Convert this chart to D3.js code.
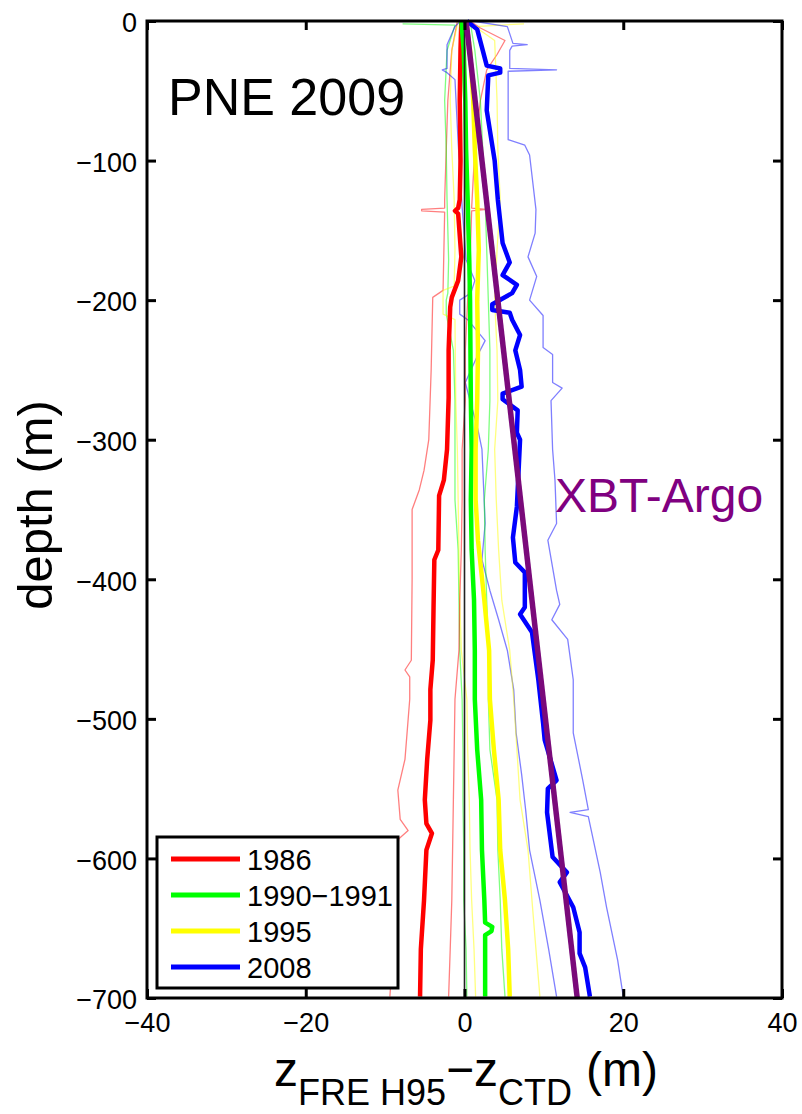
<!DOCTYPE html>
<html>
<head>
<meta charset="utf-8">
<script src="https://cdn.jsdelivr.net/npm/d3@7"></script>
<style>
  html, body { margin: 0; padding: 0; background: #fff; }
  svg { display: block; font-family: "Liberation Sans", Arial, Helvetica, sans-serif; }
</style>
</head>
<body>
<svg id="chart" width="802" height="1114"></svg>
<script>
// Depth-offset profiles: [depth (m), z_FRE H95 - z_CTD (m)]
const seriesNames = ["1986", "1990\u22121991", "1995", "2008"];
const xTicks = [-40, -20, 0, 20, 40];
const yTicks = [0, -100, -200, -300, -400, -500, -600, -700];

// 1986
const mean1986 = [[0,-0.4],[-20,-0.5],[-57,-0.6],[-100,-0.5],[-128,-0.6],[-134,-0.8],[-136,-1.2],[-138,-0.8],[-169,-0.4],[-186,-0.8],[-198,-1.6],[-205,-1.8],[-236,-2.0],[-270,-2.0],[-307,-2.2],[-329,-2.6],[-340,-3.2],[-379,-3.3],[-386,-3.8],[-420,-3.9],[-458,-4.0],[-479,-4.3],[-501,-4.3],[-529,-4.7],[-558,-5.0],[-575,-4.8],[-582,-4.1],[-594,-4.8],[-630,-5.1],[-665,-5.5],[-699,-5.6]];
const low1986 = [[0,-0.9],[-21,-1.6],[-57,-2.1],[-92,-2.3],[-128,-2.5],[-134,-2.5],[-135,-5.4],[-136,-5.4],[-137,-2.5],[-193,-2.7],[-198,-4.0],[-250,-4.2],[-300,-4.5],[-322,-5.1],[-336,-5.7],[-350,-6.6],[-400,-6.6],[-458,-6.7],[-465,-7.5],[-470,-6.9],[-486,-6.9],[-529,-7.5],[-551,-8.4],[-572,-8.1],[-580,-7.1],[-586,-8.3],[-594,-8.4],[-630,-8.6],[-665,-9.0],[-699,-9.4]];
const high1986 = [[0,0.7],[-5,2.0],[-14,5.1],[-24,4.1],[-35,2.8],[-57,2.0],[-92,1.3],[-134,0.9],[-135,2.8],[-136,0.9],[-171,0.7],[-200,0.4],[-236,0.1],[-272,0.1],[-307,-0.3],[-343,-0.3],[-379,-0.4],[-415,-0.6],[-451,-0.7],[-486,-1.2],[-522,-1.3],[-558,-1.4],[-594,-1.5],[-630,-1.6],[-665,-1.8],[-699,-2.0]];

// 1990-1991
const mean1990 = [[0,-0.4],[-21,-0.1],[-57,0.1],[-92,0.2],[-128,0.4],[-171,0.6],[-200,0.7],[-272,0.8],[-307,0.9],[-343,0.8],[-379,0.9],[-415,1.2],[-451,1.3],[-486,1.3],[-522,1.6],[-558,2.1],[-594,2.2],[-630,2.5],[-646,2.6],[-649,3.5],[-652,3.4],[-655,2.6],[-699,2.6]];
const low1990 = [[-2,-7.8],[-3,-1.2],[-21,-2.2],[-57,-2.5],[-92,-2.3],[-128,-2.2],[-171,-2.0],[-195,-2.1],[-200,-2.3],[-210,-2.3],[-236,-1.4],[-272,-1.2],[-307,-1.2],[-343,-1.2],[-379,-0.8],[-415,-0.7],[-451,-0.6],[-486,-0.3],[-522,-0.2],[-558,-0.2],[-594,-0.1],[-630,-0.1],[-665,0.2],[-699,0.3]];
const high1990 = [[0,0.7],[-21,1.3],[-57,2.0],[-92,2.3],[-128,2.6],[-164,2.8],[-200,3.0],[-236,3.2],[-272,3.2],[-307,3.0],[-343,2.5],[-379,2.6],[-415,2.8],[-451,3.0],[-486,3.0],[-522,3.2],[-558,4.1],[-594,4.2],[-630,4.5],[-665,4.7],[-699,5.1]];

// 1995
const mean1995 = [[0,0.2],[-21,0.7],[-57,1.1],[-92,1.3],[-128,1.6],[-164,1.8],[-200,1.6],[-236,1.7],[-272,1.6],[-307,1.4],[-343,1.4],[-372,1.7],[-415,2.5],[-451,3.1],[-486,3.2],[-522,3.7],[-558,4.3],[-594,4.5],[-630,5.1],[-665,5.5],[-699,5.7]];
const low1995 = [[0,-0.8],[-21,-1.6],[-57,-1.8],[-92,-1.6],[-128,-1.3],[-164,-1.2],[-190,-1.3],[-193,-2.7],[-210,-2.7],[-214,-1.2],[-272,-1.1],[-307,-0.9],[-343,-0.8],[-379,-0.7],[-415,-0.6],[-451,-0.4],[-486,0.3],[-522,0.4],[-558,0.6],[-594,0.7],[-630,0.9],[-665,1.2],[-699,1.4]];
const high1995 = [[-2,7.5],[-4,1.3],[-14,3.8],[-57,4.1],[-92,4.2],[-128,4.5],[-164,4.1],[-200,3.8],[-236,4.1],[-272,4.2],[-307,3.8],[-343,4.0],[-379,4.3],[-415,4.7],[-451,5.7],[-486,6.2],[-522,6.6],[-558,7.0],[-594,8.0],[-630,8.5],[-665,9.0],[-699,9.5]];

// 2008
const mean2008 = [[0,0.3],[-6,1.6],[-21,2.3],[-32,2.8],[-34,4.5],[-37,4.5],[-39,3.0],[-64,2.8],[-100,3.8],[-128,4.2],[-159,4.8],[-173,5.7],[-182,4.8],[-189,6.6],[-195,6.0],[-203,3.5],[-207,3.5],[-209,5.7],[-214,6.0],[-225,7.0],[-236,6.4],[-250,7.0],[-262,7.2],[-267,4.8],[-271,4.8],[-279,6.7],[-295,6.6],[-300,7.0],[-348,6.6],[-370,6.1],[-388,6.4],[-395,7.6],[-420,7.6],[-425,7.0],[-438,8.5],[-472,9.3],[-503,9.9],[-515,10.1],[-544,11.6],[-550,10.5],[-567,10.4],[-599,11.1],[-610,12.9],[-617,12.0],[-635,13.7],[-653,14.5],[-668,14.5],[-678,15.2],[-699,15.8]];
const low2008 = [[0,-0.5],[-4,-1.2],[-17,-2.2],[-34,-2.2],[-35,-2.8],[-37,-2.2],[-42,-1.2],[-87,-0.8],[-133,-0.3],[-171,0.2],[-186,1.3],[-195,0.8],[-200,-0.6],[-210,-0.6],[-214,0.4],[-229,2.6],[-239,1.7],[-259,0.1],[-272,0.7],[-293,1.7],[-307,2.2],[-360,2.6],[-386,2.2],[-408,3.2],[-429,4.3],[-451,5.4],[-479,6.2],[-510,6.5],[-540,7.2],[-565,7.7],[-594,8.2],[-630,9.5],[-665,10.6],[-699,11.6]];
const high2008 = [[0,1.0],[-4,5.4],[-16,6.1],[-17,7.9],[-18,6.0],[-21,5.7],[-34,5.7],[-35,11.6],[-36,5.5],[-85,5.5],[-89,7.6],[-96,8.2],[-135,9.0],[-152,8.9],[-169,8.0],[-183,9.1],[-200,8.2],[-211,9.9],[-234,9.9],[-239,11.1],[-259,11.1],[-263,12.3],[-272,10.9],[-307,11.1],[-329,11.4],[-360,11.6],[-372,10.5],[-408,11.6],[-418,12.0],[-429,11.0],[-443,13.0],[-472,13.7],[-510,13.7],[-544,14.9],[-565,15.6],[-567,13.3],[-570,15.6],[-610,17.1],[-635,17.9],[-673,19.3],[-699,20.0]];

// XBT-Argo reference line
const argoDepth = [0, -700];
const argoOffset = [0.2, 14.2];

const meanProfiles = [mean1986, mean1990, mean1995, mean2008];
const lowProfiles = [low1986, low1990, low1995, low2008];
const highProfiles = [high1986, high1990, high1995, high2008];
const seriesColors = ["#ff0000", "#00ff00", "#ffff00", "#0000ff"];

const svg = d3.select("#chart");
const plotLeft = 147, plotRight = 782, plotTop = 21, plotBottom = 998;

const x = d3.scaleLinear().domain([-40, 40]).range([plotLeft, plotRight]);
const y = d3.scaleLinear().domain([0, -700]).range([plotTop, plotBottom]);

const line = d3.line().x(d => x(d[1])).y(d => y(d[0]));

const plot = svg.append("g");

// thin envelope profiles
lowProfiles.concat(highProfiles).forEach((p, i) => {
  plot.append("path")
    .attr("d", line(p))
    .attr("fill", "none")
    .attr("stroke", seriesColors[i % 4])
    .attr("stroke-opacity", 0.5)
    .attr("stroke-width", 1.3)
    .attr("stroke-linejoin", "round");
});

// thick mean profiles
meanProfiles.forEach((p, i) => {
  plot.append("path")
    .attr("d", line(p))
    .attr("fill", "none")
    .attr("stroke", seriesColors[i])
    .attr("stroke-width", 4.5)
    .attr("stroke-linejoin", "round");
});

// zero line
plot.append("line")
  .attr("x1", x(0)).attr("x2", x(0))
  .attr("y1", y(0)).attr("y2", y(-700))
  .attr("stroke", "#222").attr("stroke-width", 1.6);

// XBT-Argo line
plot.append("path")
  .attr("d", line(argoDepth.map((d, i) => [d, argoOffset[i]])))
  .attr("fill", "none")
  .attr("stroke", "#7a0a7a")
  .attr("stroke-width", 5.5);

// axes with inward ticks
const tickLen = 9;
const axB = svg.append("g").attr("transform", `translate(0,${plotBottom})`)
  .call(d3.axisBottom(x).tickValues(xTicks).tickSize(-tickLen).tickPadding(15));
const axL = svg.append("g").attr("transform", `translate(${plotLeft},0)`)
  .call(d3.axisLeft(y).tickValues(yTicks).tickSize(-tickLen).tickPadding(10));
const axT = svg.append("g").attr("transform", `translate(0,${plotTop})`)
  .call(d3.axisTop(x).tickValues(xTicks).tickSize(-tickLen).tickFormat(""));
const axR = svg.append("g").attr("transform", `translate(${plotRight},0)`)
  .call(d3.axisRight(y).tickValues(yTicks).tickSize(-tickLen).tickFormat(""));

[axB, axL, axT, axR].forEach(a => {
  a.select(".domain").remove();
  a.selectAll(".tick line").attr("stroke", "#000").attr("stroke-width", 3);
  a.selectAll(".tick text")
    .attr("font-size", 27)
    .attr("font-family", "'Liberation Sans', Arial, sans-serif")
    .attr("fill", "#000");
});
axL.selectAll(".tick text").attr("dy", "0.4em");

// frame
svg.append("rect")
  .attr("x", plotLeft).attr("y", plotTop)
  .attr("width", plotRight - plotLeft).attr("height", plotBottom - plotTop)
  .attr("fill", "none").attr("stroke", "#000").attr("stroke-width", 3);

// title and annotation
svg.append("text").attr("x", 168).attr("y", 115)
  .attr("font-size", 52).attr("fill", "#000").text("PNE 2009");
svg.append("text").attr("x", 555).attr("y", 512)
  .attr("font-size", 48).attr("fill", "#800080").text("XBT-Argo");

// y-axis label
svg.append("text")
  .attr("transform", "translate(52,505) rotate(-90)")
  .attr("text-anchor", "middle")
  .attr("font-size", 49).attr("fill", "#000")
  .text("depth (m)");

// x-axis label with subscripts
const xl = svg.append("text").attr("x", 274).attr("y", 1086).attr("fill", "#000");
xl.append("tspan").attr("font-size", 48).text("z");
xl.append("tspan").attr("font-size", 36).attr("dy", 19).text("FRE H95");
xl.append("tspan").attr("font-size", 48).attr("dy", -19).text("\u2212z");
xl.append("tspan").attr("font-size", 36).attr("dy", 19).text("CTD");
xl.append("tspan").attr("font-size", 48).attr("dy", -19).attr("dx", 14).text("(m)");

// legend
const lg = svg.append("g");
lg.append("rect")
  .attr("x", 157).attr("y", 837).attr("width", 241).attr("height", 151)
  .attr("fill", "#fff").attr("stroke", "#000").attr("stroke-width", 3);
seriesNames.forEach((name, i) => {
  const ly = 859 + i * 36;
  lg.append("line").attr("x1", 171).attr("x2", 240).attr("y1", ly).attr("y2", ly)
    .attr("stroke", seriesColors[i]).attr("stroke-width", 5);
  lg.append("text").attr("x", 247).attr("y", ly + 11)
    .attr("font-size", 29).attr("fill", "#000").text(name);
});
</script>
</body>
</html>
